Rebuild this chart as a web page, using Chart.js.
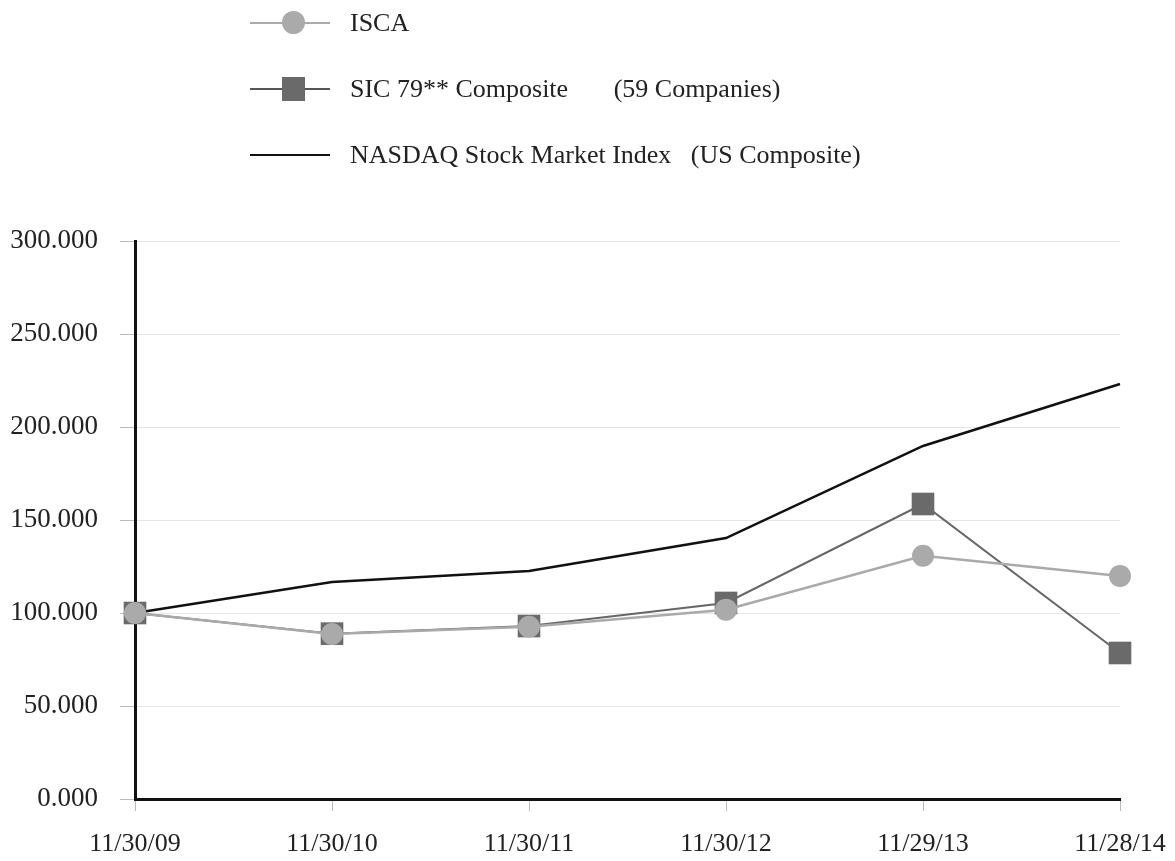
<!DOCTYPE html>
<html>
<head>
<meta charset="utf-8">
<script src="https://cdn.jsdelivr.net/npm/chart.js@4.4.0/dist/chart.umd.min.js"></script>
<style>
  body { margin: 0; background: #fff; font-family: "Liberation Serif", "Times New Roman", serif; }
  #wrap { position: relative; width: 1175px; height: 861px; }
  #legend { position: absolute; left: 250px; top: 0; color: #222; font-size: 26px; }
  .row { position: absolute; left: 0; height: 30px; width: 800px; white-space: pre; }
  .row .line { position: absolute; left: 0; top: 14px; width: 80px; height: 2px; }
  .row .mark { position: absolute; }
  .row .txt { position: absolute; left: 100px; top: 0px; line-height: 30px; }
</style>
</head>
<body>
<div id="wrap">
  <canvas id="chart" width="1175" height="861"></canvas>
  <div id="legend">
    <div class="row" style="top:8px">
      <div class="line" style="background:#aaaaaa"></div>
      <div class="mark" style="left:32px;top:3px;width:23px;height:23px;border-radius:50%;background:#aaaaaa"></div>
      <div class="txt">ISCA</div>
    </div>
    <div class="row" style="top:74px">
      <div class="line" style="background:#555"></div>
      <div class="mark" style="left:32px;top:3px;width:23px;height:24px;background:#6a6a6a"></div>
      <div class="txt">SIC 79** Composite       (59 Companies)</div>
    </div>
    <div class="row" style="top:140px">
      <div class="line" style="background:#111"></div>
      <div class="txt">NASDAQ Stock Market Index   (US Composite)</div>
    </div>
  </div>
</div>
<script>
// data
const dates = ["11/30/09", "11/30/10", "11/30/11", "11/30/12", "11/29/13", "11/28/14"];
const isca = [100, 88.7, 92.6, 101.8, 130.8, 119.9];
const sic79 = [100, 88.9, 93.0, 105.4, 158.6, 78.5];
const nasdaq = [100, 116.7, 122.6, 140.3, 189.8, 223.1];

new Chart(document.getElementById("chart").getContext("2d"), {
  type: "line",
  data: {
    labels: dates,
    datasets: [
      {
        label: "ISCA",
        data: isca,
        borderColor: "#aaaaaa",
        backgroundColor: "#aaaaaa",
        borderWidth: 2.5,
        pointStyle: "circle",
        pointRadius: 11,
        pointBorderWidth: 0,
        order: 1,
      },
      {
        label: "SIC 79** Composite (59 Companies)",
        data: sic79,
        borderColor: "#666666",
        backgroundColor: "#6a6a6a",
        borderWidth: 2,
        pointStyle: "rect",
        pointRadius: 16,
        pointBorderWidth: 0,
        order: 2,
      },
      {
        label: "NASDAQ Stock Market Index (US Composite)",
        data: nasdaq,
        borderColor: "#111111",
        borderWidth: 2.5,
        pointRadius: 0,
        order: 3,
      },
    ],
  },
  options: {
    responsive: false,
    animation: false,
    layout: { padding: { top: 241, right: 55, left: 0, bottom: 0 } },
    plugins: { legend: { display: false }, tooltip: { enabled: false } },
    scales: {
      x: {
        offset: false,
        border: { color: "#111", width: 3 },
        grid: { drawOnChartArea: false, color: "#bbb", tickColor: "#bbb", tickLength: 12 },
        ticks: { color: "#222", font: { family: "Liberation Serif", size: 26 }, padding: 18, maxRotation: 0 },
        afterFit: (s) => { s.height = 62; s.paddingLeft = 0; s.paddingRight = 0; },
      },
      y: {
        min: 0,
        max: 300,
        border: { color: "#111", width: 3 },
        grid: { color: "#e6e6e6", tickColor: "#bbb", tickLength: 15 },
        ticks: {
          stepSize: 50,
          color: "#222",
          font: { family: "Liberation Serif", size: 27 },
          padding: 22,
          callback: (v) => v.toFixed(3),
        },
        afterFit: (s) => { s.width = 135; s.paddingTop = 0; s.paddingBottom = 0; },
      },
    },
  },
});
</script>
</body>
</html>
